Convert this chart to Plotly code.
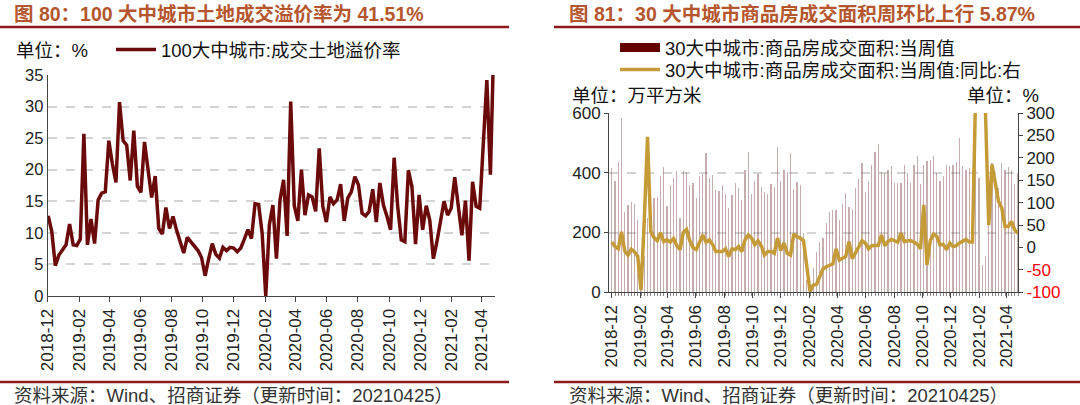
import pandas as pd
import plotly.graph_objects as go

# ---------------- data ----------------
week_start = "2018-12-02"
week_end = "2021-04-25"
weeks = pd.date_range(week_start, week_end, freq="7D")

# 100大中城市:成交土地溢价率 (%)
premium = [
    12.7, 10.2, 4.8, 6.5, 7.3, 8.1, 11.4, 8.1, 8.0, 9.0,
    25.7, 8.1, 12.2, 8.3, 15.2, 16.3, 16.5, 24.6, 20.9, 18.0,
    30.7, 24.6, 23.9, 18.3, 26.2, 17.4, 16.4, 24.4, 20.0, 15.6,
    19.0, 10.7, 9.8, 14.0, 10.7, 12.6, 10.4, 8.6, 6.8, 9.3,
    8.6, 8.0, 7.2, 6.1, 3.2, 5.9, 8.3, 6.6, 6.0, 7.7,
    7.2, 7.7, 7.6, 7.0, 7.6, 9.0, 10.5, 9.1, 14.6, 14.5,
    9.9, 0.0, 11.2, 14.4, 5.9, 15.2, 18.4, 9.5, 30.8, 14.3,
    11.9, 20.0, 12.8, 16.0, 15.7, 13.4, 23.4, 14.2, 11.7, 15.7,
    14.6, 15.2, 17.7, 11.9, 15.5, 16.5, 18.9, 17.6, 13.1, 12.7,
    13.4, 16.9, 11.7, 17.9, 14.4, 12.6, 10.5, 21.9, 14.2, 8.9,
    8.6, 19.9, 17.3, 8.2, 16.0, 10.5, 14.3, 12.0, 5.9, 8.6,
    11.8, 15.0, 12.8, 13.9, 18.8, 13.6, 9.6, 15.1, 5.6, 18.1,
    14.2, 13.9, 24.0, 34.2, 19.2, 41.51,
]

# 30大中城市:商品房成交面积:当周值 (万平方米)
area = [
    415, 373, 436, 583, 268, 293, 302, 295, 242, 30,
    120, 250, 310, 317, 320, 388, 419, 290, 360, 382,
    405, 250, 405, 404, 360, 366, 316, 388, 397, 466,
    382, 393, 343, 340, 360, 328, 281, 326, 367, 348,
    309, 410, 468, 330, 373, 395, 354, 337, 328, 363,
    354, 485, 373, 410, 404, 466, 346, 369, 360, 200,
    40, 15, 80, 136, 170, 181, 231, 270, 276, 275,
    242, 295, 332, 287, 279, 348, 380, 432, 334, 373,
    427, 468, 496, 404, 399, 408, 421, 367, 367, 367,
    427, 399, 365, 427, 455, 362, 427, 438, 443, 455,
    399, 373, 388, 427, 421, 427, 436, 516, 421, 410,
    416, 410, 461, 382, 92, 120, 300, 432, 380, 350,
    432, 408, 420, 410, 362, 400,
]

# 30大中城市:商品房成交面积:当周值:同比 (%)
yoy = [
    12, 2, -3, 35, -8, -17, -4, -10, -20, -95,
    60, 247, 36, 22, 15, 33, 13, 17, 12, 20,
    5, -5, 33, 40, 15, 0, -5, 13, 28, 12,
    17, 7, -9, -9, -9, -3, -20, -3, -5, 2,
    -9, 17, 28, 21, 6, 15, 4, -17, -9, -9,
    -13, 21, -7, 10, -13, -17, 30, 24, 21, 15,
    -35, -98, -84, -82, -65, -48, -43, -40, -37, -3,
    -28, -24, -20, 13, -25, -12, 3, 15, 10, -3,
    4, 4, 5, 28, 4, 13, 18, 15, 12, 32,
    13, 15, 15, 12, 7, -3, 95, -39, 15, 30,
    25, 6, 7, -5, 10, 2, 4, 10, 15, 18,
    12, 12, 360, 1100, 760, 300, 50, 185, 140, 103,
    88, 47, 47, 58, 39, 32,
]

left_ticks = [0, 5, 10, 15, 20, 25, 30, 35]
area_ticks = [0, 200, 400, 600]
yoy_ticks = [-100, -50, 0, 50, 100, 150, 200, 250, 300]

title_left = "图 80：100 大中城市土地成交溢价率为 41.51%"
title_right = "图 81：30 大中城市商品房成交面积周环比上行 5.87%"
source_text = "资料来源：Wind、招商证券（更新时间：20210425）"
name_premium = "100大中城市:成交土地溢价率"
name_area = "30大中城市:商品房成交面积:当周值"
name_yoy = "30大中城市:商品房成交面积:当周值:同比:右"

# ---------------- styling ----------------
W, H = 1080, 405
FONT = "Liberation Sans, Arial, Noto Sans CJK SC, sans-serif"
MAROON = "#6b0a0a"
GOLD = "#c59b38"
RULE = "#8e1b1b"
TITLE_C = "#b5562e"
GRID = "#d4d4d4"
AXIS = "#444444"
LEG_SIZE = 18.5


def px(x):
    return x / W


def py(y):
    return (H - y) / H


fig = go.Figure()

fig.add_trace(go.Scatter(
    x=weeks, y=premium, mode="lines", name=name_premium,
    line=dict(color=MAROON, width=3.5), xaxis="x", yaxis="y",
    legend="legend", hoverinfo="skip"))

fig.add_trace(go.Bar(
    x=weeks, y=area, name=name_area, showlegend=False,
    marker=dict(color="rgba(120,60,62,0.42)", line=dict(width=0)),
    width=2.6e8, xaxis="x2", yaxis="y2", hoverinfo="skip"))

# legend swatch for the bars (dark block like the original legend)
fig.add_trace(go.Scatter(
    x=[None], y=[None], mode="lines", name=name_area,
    line=dict(color="#650000", width=9), xaxis="x2", yaxis="y2",
    legend="legend2", hoverinfo="skip"))

fig.add_trace(go.Scatter(
    x=weeks, y=yoy, mode="lines", name=name_yoy,
    line=dict(color=GOLD, width=3.5), xaxis="x2", yaxis="y3",
    legend="legend3", hoverinfo="skip"))

yoy_text = [
    f"<span style='color:#ff0000'>{v}</span>" if v < 0 else str(v)
    for v in yoy_ticks
]

xcommon = dict(
    type="date", tickformat="%Y-%m", dtick="M2", tick0="2018-12-01",
    tickangle=-90, ticks="outside", ticklen=5, tickcolor=AXIS,
    showline=True, linecolor=AXIS, linewidth=1, showgrid=False,
    zeroline=False, automargin=False,
    tickfont=dict(family=FONT, size=17, color="#222"),
)

legend_common = dict(xanchor="left", yanchor="middle", orientation="h",
                     itemwidth=40, bgcolor="rgba(0,0,0,0)",
                     font=dict(family=FONT, size=LEG_SIZE, color="#111"))

fig.update_layout(
    width=W, height=H,
    autosize=False,
    margin=dict(l=0, r=0, t=0, b=0, pad=0, autoexpand=False),
    paper_bgcolor="white", plot_bgcolor="white",
    font=dict(family=FONT, color="#111"),
    bargap=0,
    xaxis=dict(domain=[px(47.7), px(495)], anchor="y",
               range=["2018-12-01", "2021-04-27"], **xcommon),
    yaxis=dict(domain=[py(296), py(75)], anchor="x", range=[0, 35],
               tickvals=left_ticks, showline=True, linecolor=AXIS,
               linewidth=1, ticks="", showgrid=True, gridcolor=GRID,
               griddash="dash", gridwidth=1.5, zeroline=False,
               automargin=False,
               tickfont=dict(family=FONT, size=16.5, color="#222")),
    xaxis2=dict(domain=[px(609), px(1018)], anchor="y2",
                range=["2018-11-26", "2021-04-25"],
                minor=dict(ticks="outside", ticklen=3, dtick=7 * 86400000,
                           tick0=week_start, tickcolor="#888",
                           showgrid=False),
                **xcommon),
    yaxis2=dict(domain=[py(292.3), py(113)], anchor="x2", range=[0, 600],
                tickvals=area_ticks, showline=True, linecolor=AXIS,
                linewidth=1, ticks="outside", ticklen=4, tickcolor=AXIS,
                showgrid=True, gridcolor=GRID, griddash="dash",
                gridwidth=1.5, zeroline=False, automargin=False,
                tickfont=dict(family=FONT, size=17, color="#222")),
    yaxis3=dict(overlaying="y2", anchor="x2", side="right",
                range=[-100, 300], tickvals=yoy_ticks, ticktext=yoy_text,
                showline=True, linecolor=AXIS, linewidth=1,
                ticks="outside", ticklen=4, tickcolor=AXIS,
                showgrid=False, zeroline=False, automargin=False,
                tickfont=dict(family=FONT, size=17, color="#222")),
    legend=dict(x=px(111), y=py(50), **legend_common),
    legend2=dict(x=px(615), y=py(48), **legend_common),
    legend3=dict(x=px(615), y=py(70), **legend_common),
)

annotations = [
    dict(text=f"<b>{title_left}</b>", x=px(12), y=py(14), xanchor="left",
         yanchor="middle", font=dict(family=FONT, size=19.5, color=TITLE_C)),
    dict(text=f"<b>{title_right}</b>", x=px(567), y=py(14), xanchor="left",
         yanchor="middle", font=dict(family=FONT, size=19.5, color=TITLE_C)),
    dict(text=source_text, x=px(12), y=py(395), xanchor="left",
         yanchor="middle", font=dict(family=FONT, size=18.5, color="#333")),
    dict(text=source_text, x=px(567), y=py(395), xanchor="left",
         yanchor="middle", font=dict(family=FONT, size=18.5, color="#333")),
    dict(text="单位：%", x=px(14), y=py(50), xanchor="left",
         yanchor="middle", font=dict(family=FONT, size=LEG_SIZE, color="#111")),
    dict(text="单位：万平方米", x=px(570), y=py(95), xanchor="left",
         yanchor="middle", font=dict(family=FONT, size=LEG_SIZE, color="#111")),
    dict(text="单位：%", x=px(1041), y=py(95), xanchor="right",
         yanchor="middle", font=dict(family=FONT, size=LEG_SIZE, color="#111")),
]
for a in annotations:
    a.update(xref="paper", yref="paper", showarrow=False)
fig.update_layout(annotations=annotations)

shapes = []
for x0, x1 in [(0, 509), (554, 1080)]:
    for yy in (27, 382):
        shapes.append(dict(type="line", xref="paper", yref="paper",
                           x0=px(x0), x1=px(x1), y0=py(yy), y1=py(yy),
                           line=dict(color=RULE, width=2.5)))
fig.update_layout(shapes=shapes)

# the page's default body margin would shift the fixed-size figure; remove it
fig.write_html(
    "out.html",
    config={"displayModeBar": False},
    post_script="document.body.style.margin='0';"
                "document.body.style.overflow='hidden';",
)
